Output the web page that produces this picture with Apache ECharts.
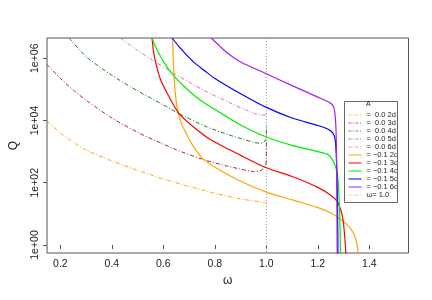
<!DOCTYPE html>
<html><head><meta charset="utf-8">
<script src="https://cdn.jsdelivr.net/npm/echarts@6/dist/echarts.min.js"></script>
<style>html,body{margin:0;padding:0;background:#fff}#c{width:432px;height:300px}</style>
</head><body><div id="c"></div>
<script>
// ---- data (ω, log10 Q) ----
const seriesNames = ['=  0.0 2d','=  0.0 3d','=  0.0 4d','=  0.0 5d','=  0.0 6d','= \u22120.1 2d','= \u22120.1 3d','= \u22120.1 4d','= \u22120.1 5d','= \u22120.1 6d'];
const refName = '\u03c9= 1.0';
const xTicks = [0.2,0.4,0.6,0.8,1.0,1.2,1.4];
const yTicks = [0,2,4,6];

const w_a2 = [0.148,0.2,0.25,0.3,0.4,0.5,0.6,0.7,0.8,0.9,1.0];
const q_a2 = [3.98,3.6,3.3,3.05,2.7,2.4,2.12,1.88,1.66,1.48,1.36];
const w_a3 = [0.148,0.2,0.25,0.3,0.4,0.5,0.6,0.65,0.75,0.85,0.9,0.95,0.975,0.99,0.997,1.0,1.0];
const q_a3 = [5.8,5.35,4.98,4.65,4.08,3.62,3.24,3.06,2.76,2.53,2.44,2.36,2.38,2.47,2.57,2.75,3.3];
const w_a4 = [0.234,0.3,0.4,0.5,0.6,0.661,0.761,0.85,0.913,0.95,0.975,0.99,0.997,1.0,1.0];
const q_a4 = [6.65,6.05,5.45,4.95,4.5,4.22,3.82,3.55,3.39,3.3,3.27,3.3,3.4,3.55,3.85];
const w_a5 = [];
const q_a5 = [];
const w_a6 = [0.433,0.5,0.55,0.628,0.7,0.761,0.85,0.913,0.95,0.98,1.0];
const q_a6 = [6.65,6.25,5.98,5.58,5.23,4.95,4.6,4.36,4.24,4.17,4.19];

const w_b2 = [0.636,0.638,0.641,0.645,0.65,0.655,0.66,0.67,0.685,0.70,0.72,0.75,0.8,0.9,1.0,1.1,1.2,1.25,1.29,1.32,1.34,1.35,1.357];
const q_b2 = [6.65,6.0,5.5,5.0,4.6,4.35,4.17,3.9,3.65,3.4,3.12,2.8,2.5,2.05,1.70,1.45,1.2,1.03,0.82,0.6,0.35,0.1,-0.3];
const w_b3 = [0.556,0.561,0.571,0.59,0.622,0.66,0.723,0.786,0.9,1.0,1.1,1.2,1.25,1.275,1.288,1.297,1.303,1.309];
const q_b3 = [6.65,6.26,5.83,5.29,4.76,4.23,3.75,3.37,2.88,2.48,2.2,1.85,1.6,1.4,1.15,0.85,0.4,-0.3];
const w_b4 = [0.556,0.565,0.58,0.60,0.634,0.68,0.72,0.761,0.85,0.913,1.0,1.1,1.2,1.24,1.262,1.275,1.282,1.286,1.288];
const q_b4 = [6.65,6.45,6.2,5.9,5.5,5.1,4.8,4.55,4.1,3.8,3.47,3.2,3.0,2.9,2.65,2.3,1.6,0.5,-0.3];
const w_b5 = [0.634,0.66,0.685,0.72,0.76,0.8,0.9,1.0,1.1,1.2,1.24,1.258,1.267,1.272,1.276,1.278];
const q_b5 = [6.65,6.38,6.15,5.86,5.6,5.35,4.86,4.42,4.08,3.84,3.72,3.6,3.4,2.8,1.5,-0.3];
const w_b6 = [0.786,0.82,0.85,0.9,1.0,1.1,1.2,1.24,1.257,1.265,1.27,1.273,1.275];
const q_b6 = [6.65,6.38,6.16,5.88,5.5,5.12,4.75,4.6,4.5,4.3,3.8,2.5,-0.3];

const w_ref = [1.0,1.0];
const q_ref = [-1,8];

const colors = ['#ffa500','#a52a2a','#1e7b1e','#6a5acd','#d27aa8','#ffa500','#ff0000','#00ee00','#0000ff','#a020f0'];
const dashed = [true,true,true,true,true,false,false,false,false,false];
const W = [w_a2,w_a3,w_a4,w_a5,w_a6,w_b2,w_b3,w_b4,w_b5,w_b6];
const Q = [q_a2,q_a3,q_a4,q_a5,q_a6,q_b2,q_b3,q_b4,q_b5,q_b6];

const zip = (a,b) => a.map((v,i)=>[v,b[i]]);
const dotdash = [4,2,1,2];

const series = [{
  name: refName, type:'line', data: zip(w_ref,q_ref), symbol:'none', silent:true,
  lineStyle:{color:'#8a8a8a', width:1, type:[1,2]}, z:1
}];
seriesNames.forEach((n,i)=>{
  series.push({
    name:n, type:'line', data: zip(W[i],Q[i]), symbol:'none', showSymbol:false,
    smooth:0.25, silent:true,
    lineStyle:{color:colors[i], width: dashed[i]?1:1.2, type: dashed[i]?dotdash:'solid'},
    itemStyle:{color:colors[i]}, z:2
  });
});

const FONT = 'Liberation Sans';
const legendData = seriesNames.map((n,i)=>({name:n, lineStyle:{width:1, type: dashed[i]?[3,1.5,1,1.5]:'solid', opacity: dashed[i]?0.7:1}}));
legendData.push({name:refName, lineStyle:{color:'#ffc870', type:[3,1.5,1,1.5], width:1}});

const chart = echarts.init(document.getElementById('c'), null, {renderer:'canvas'});
chart.setOption({
  animation:false,
  backgroundColor:'#fff',
  textStyle:{fontFamily:FONT},
  grid:{left:39, right:23.5, top:38, bottom:47, show:true, borderColor:'#555', borderWidth:1, containLabel:false},
  xAxis:{
    type:'value', min:0.148, max:1.552,
    name:'\u03c9', nameLocation:'middle', nameGap:17,
    nameTextStyle:{fontSize:12, color:'#222', fontFamily:FONT},
    axisLine:{show:false},
    axisTick:{show:true, length:4, lineStyle:{color:'#555'}, customValues:xTicks},
    axisLabel:{show:true, fontSize:10.5, color:'#222', margin:6, customValues:xTicks, formatter:v=>v.toFixed(1)},
    splitLine:{show:false}
  },
  yAxis:{
    type:'value', min:-0.257, max:6.65,
    name:'Q', nameLocation:'middle', nameGap:27, nameRotate:90,
    nameTextStyle:{fontSize:12, color:'#222', fontFamily:FONT},
    axisLine:{show:false},
    axisTick:{show:true, length:4, lineStyle:{color:'#555'}, customValues:yTicks},
    axisLabel:{show:true, fontSize:10.5, color:'#222', margin:6, rotate:90, align:'center', verticalAlign:'bottom',
      customValues:yTicks, formatter:v=>'1e+' + (v<10?'0':'') + Math.round(v)},
    splitLine:{show:false}
  },
  legend:{
    show:true, orient:'vertical', left:348, top:111, padding:0, itemGap:0,
    itemWidth:13, itemHeight:7.6,
    itemStyle:{opacity:0, borderWidth:0},
    lineStyle:{width:1},
    data:legendData, selectedMode:false,
    textStyle:{fontSize:7.5, color:'#222', fontFamily:FONT, lineHeight:7.6, padding:0}
  },
  graphic:[
    {type:'rect', left:342, top:99, shape:{width:53, height:101}, style:{fill:'none', stroke:'#666', lineWidth:1}, z:10},
    {type:'text', left:366, top:101, style:{text:'A', fontSize:7, fill:'#222', fontFamily:FONT}, z:10}
  ],
  series: series
});
</script></body></html>
